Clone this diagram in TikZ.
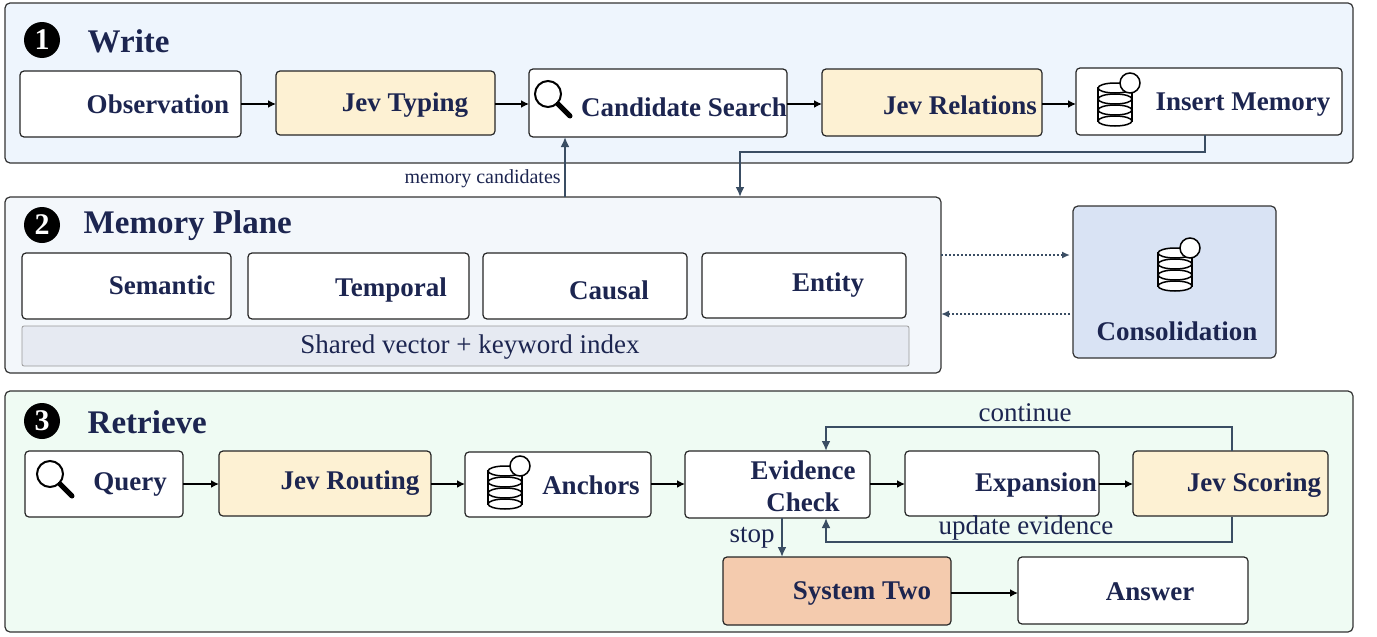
\documentclass[tikz,border=0pt]{standalone}
\usepackage{fontspec}
\setmainfont{Liberation Serif}
\usetikzlibrary{arrows.meta,calc}
\definecolor{navy}{HTML}{1C2550}
\definecolor{wire}{HTML}{3A4D63}
\definecolor{jevfill}{HTML}{FDF1D3}
\definecolor{writebg}{HTML}{EEF5FD}
\definecolor{membg}{HTML}{F3F7FB}
\definecolor{consbg}{HTML}{D9E3F4}
\definecolor{retbg}{HTML}{EFFBF3}
\definecolor{stripbg}{HTML}{E6EAF2}
\definecolor{sysbg}{HTML}{F4CBAE}
\begin{document}
\begin{tikzpicture}[x=1pt, y=-1pt, thick]
\tikzstyle{panel}=[draw=black!80, line width=1.2pt, rounded corners=5pt]
\tikzstyle{box}=[draw=black!85, line width=1.2pt, rounded corners=4pt, fill=white]
\tikzstyle{lbl}=[text=navy, font=\fontsize{27}{29}\selectfont\bfseries, align=center]
\tikzstyle{title}=[text=navy, font=\fontsize{33}{35}\selectfont\bfseries, anchor=west]
\tikzstyle{num}=[circle, fill=black, text=white, inner sep=0pt, minimum size=36pt, font=\fontsize{30}{30}\selectfont\bfseries]
\tikzstyle{flow}=[line width=2pt, -{Latex[length=8pt,width=8pt]}]
\tikzstyle{back}=[draw=wire, line width=2pt, -{Latex[length=10pt,width=9pt]}]
\tikzstyle{note}=[text=navy, font=\fontsize{27}{29}\selectfont]
\newcommand{\lens}[1]{\draw[line width=2pt] ($(#1)+(-10,-6)$) circle (13pt); \draw[line width=5pt, line cap=round] ($(#1)+(0,4)$) -- ($(#1)+(12,16)$);}
\newcommand{\dbase}[1]{\draw[line width=1.5pt, fill=white] ($(#1)+(-17,-15)$) rectangle ($(#1)+(17,18)$);
  \foreach \yy in {-15,-4,7,18} \draw[line width=1.5pt, fill=white] ($(#1)+(0,\yy)$) ellipse (17pt and 5pt);
  \draw[line width=1.5pt, fill=white] ($(#1)+(15,-20)$) circle (10pt);}
\useasboundingbox (0,0) rectangle (1377,637);

% panels
\draw[panel, fill=writebg] (5,3) rectangle (1353,163);
\draw[panel, fill=membg] (5,197) rectangle (941,373);
\draw[panel, fill=consbg] (1073,206) rectangle (1276,358);
\draw[panel, fill=retbg] (5,391) rectangle (1353,632);
\node[num] (n1) at (42,40) {1};
\node[title] (t1) at (84,41) {Write};
\node[num] (n2) at (42,225) {2};
\node[title] (t2) at (80,226) {Memory Plane};
\node[num] (n3) at (42,421) {3};
\node[title] (t3) at (84,422) {Retrieve};

% write row
\draw[box] (20,71) rectangle (241,137);
\node[lbl] (obs-t) at (158,104) {Observation};
\draw[box, fill=jevfill] (276,71) rectangle (495,135);
\node[lbl] (typ-t) at (405,105) {Jev Typing};
\draw[box] (529,69) rectangle (787,137);
\node[lbl] (cand-t) at (684,107) {Candidate Search};
\lens{558,100}
\draw[box, fill=jevfill] (822,69) rectangle (1042,136);
\node[lbl] (rel-t) at (960,105) {Jev Relations};
\draw[box] (1076,68) rectangle (1342,135);
\node[lbl] (ins-t) at (1243,105) {Insert Memory};
\dbase{1115,103}
\draw[flow] (241,104) -- (276,104);
\draw[flow] (495,104) -- (529,104);
\draw[flow] (787,104) -- (822,104);
\draw[flow] (1042,104) -- (1076,104);

% memory plane
\draw[box] (22,253) rectangle (231,319);
\node[lbl] (sem-t) at (162,285) {Semantic};
\draw[box] (248,253) rectangle (469,319);
\node[lbl] (tmp-t) at (391,290) {Temporal};
\draw[box] (483,253) rectangle (687,319);
\node[lbl] (cau-t) at (609,290) {Causal};
\draw[box] (702,253) rectangle (906,318);
\node[lbl] (ent-t) at (828,285) {Entity};
\draw[line width=0.8pt, draw=black!40, fill=stripbg, rounded corners=2pt] (22,326) rectangle (909,366);
\node[note] (idx) at (470,347) {Shared vector + keyword index};
\node[lbl] (con-t) at (1177,331) {Consolidation};
\dbase{1175,268}

% links between write and memory
\coordinate (mc) at (565,197);
\coordinate (cs) at (565,137);
\draw[back] (mc) -- (cs) node[note, pos=0.3, left, font=\fontsize{20}{22}\selectfont] {memory candidates};
\coordinate (im) at (1205,135);
\coordinate (mp) at (740,197);
\draw[back] (im) -- (1205,152) -- (740,152) -- (mp);
\draw[draw=wire, line width=2pt, dotted, -{Latex[length=8pt,width=7pt]}] (941,255) -- (1070,255);
\draw[draw=wire, line width=2pt, dotted, -{Latex[length=8pt,width=7pt]}] (1070,314) -- (941,314);

% retrieve row
\draw[box] (25,451) rectangle (183,517);
\node[lbl] (qry-t) at (130,484) {Query};
\lens{60,480}
\draw[box, fill=jevfill] (219,451) rectangle (431,516);
\node[lbl] (rout-t) at (350,483) {Jev Routing};
\draw[box] (465,452) rectangle (651,517);
\node[lbl] (anc-t) at (591,485) {Anchors};
\dbase{505,486}
\draw[box] (685,451) rectangle (870,518);
\node[lbl, font=\fontsize{27}{32}\selectfont\bfseries] (evi-t) at (803,486) {Evidence\\Check};
\draw[box] (905,451) rectangle (1099,516);
\node[lbl] (exp-t) at (1036,485) {Expansion};
\draw[box, fill=jevfill] (1133,451) rectangle (1328,516);
\node[lbl] (sco-t) at (1254,485) {Jev Scoring};
\draw[box, fill=sysbg] (723,557) rectangle (951,625);
\node[lbl] (sys-t) at (862,593) {System Two};
\draw[box] (1018,557) rectangle (1248,624);
\node[lbl] (ans-t) at (1150,592) {Answer};
\draw[flow] (183,484) -- (219,484);
\draw[flow] (431,484) -- (465,484);
\draw[flow] (651,484) -- (685,484);
\draw[flow] (870,484) -- (905,484);
\draw[flow] (1099,484) -- (1133,484);
\draw[flow] (951,593) -- (1018,593);
\draw[back] (1232,451) -- (1232,427) -- (826,427) -- (826,451);
\node[note] (cont) at (1025,413) {continue};
\draw[back] (1232,517) -- (1232,542) -- (826,542) -- (826,518);
\node[note] (upd) at (1026,528) {update evidence};
\draw[back] (782,518) -- (782,557);
\node[note] (stop) at (752,538) {stop};
\end{tikzpicture}
\end{document}
